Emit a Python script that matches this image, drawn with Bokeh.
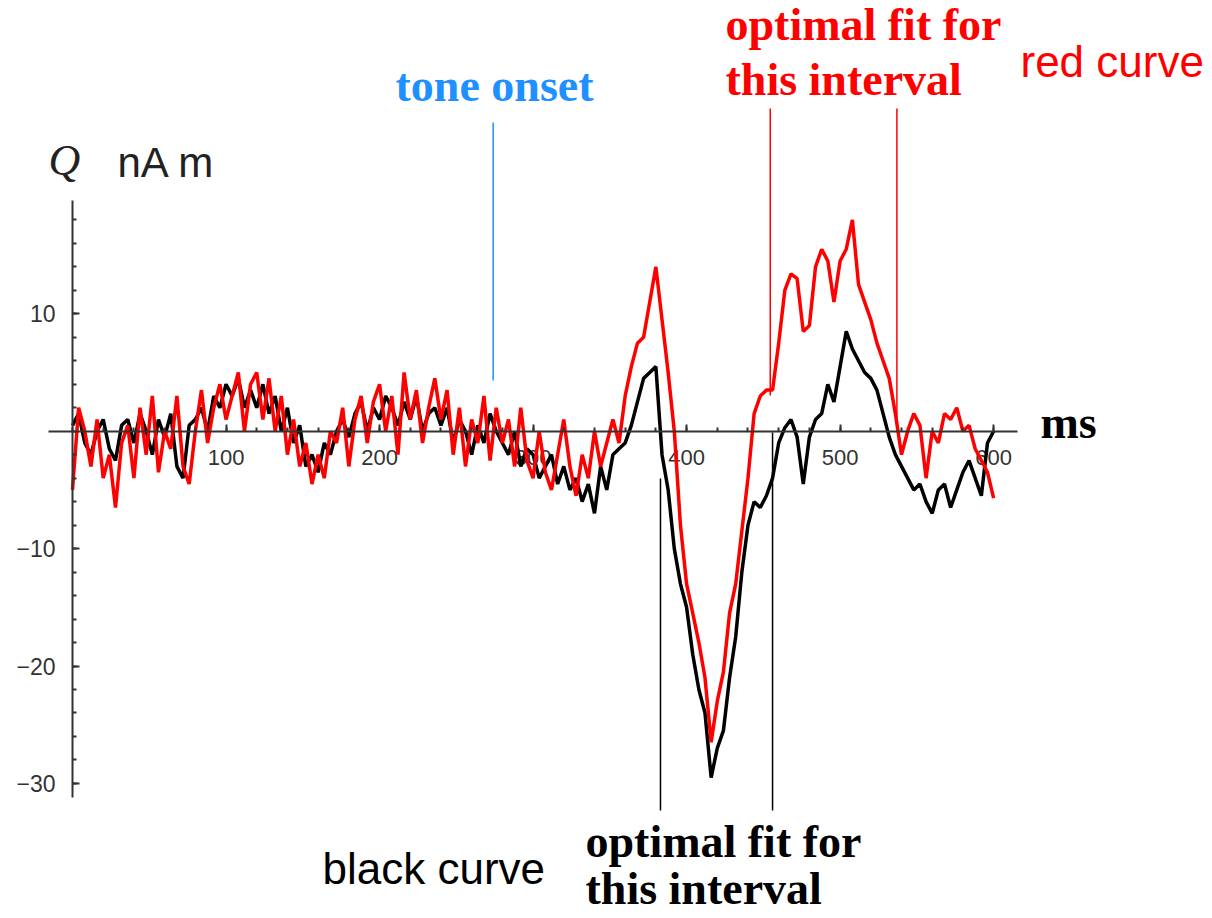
from bokeh.plotting import figure
from bokeh.models import FixedTicker, Label, Arrow, Range1d, ColumnDataSource, LinearAxis
from bokeh.core.properties import value
from bokeh.embed import file_html
from bokeh.resources import INLINE

# ---- data (ms, nA m) ----
time_ms = list(range(0, 601, 4))

black_curve = [
    0.5, 1.5, -1, -2, 0, 1, -1.5, -2.5, 0.5, 1,
    -1, 1.5, 0, -2, 1, -0.5, 1.5, -3, -4, 0.5,
    1, 2, 0, 3, 2, 4, 3, 4.5, 2, 3.5,
    2, 4, 1.5, 3, 0, 2, -1, 0.5, -3, -2,
    -3.5, -1, -2, 0, 1, -0.5, 1.5, 2.5, 0, 2,
    1, 3, 2, 0.5, 2.5, 1, 3, 0, 1.5, 2,
    0.5, 2, -1, 1, 0, -2, 0.5, -1, 1.5, 0,
    -1, -2, 0, -3, -1.5, -2, -4, -3, -2, -4.5,
    -3, -5, -4, -6, -4.5, -7, -3, -5, -2, -1.5,
    -1, 0.5, 2.5, 4.5, 5, 5.5, -2, -5, -10, -13,
    -15, -19, -22, -24, -29.5, -27, -25.5, -21, -17.5, -12,
    -8, -6, -6.5, -5.5, -4, -1, 0.3, 1, -0.5, -4.5,
    -0.5, 1, 1.5, 4, 2.5, 5.5, 8.5, 7, 6, 5,
    4.5, 3.5, 1.5, -0.5, -2, -3, -4, -5, -4.5, -6,
    -7, -5, -4.5, -6.5, -5, -3.5, -2.5, -4, -5.5, -1,
    0,
]

red_curve = [
    -5, 2, 0, -3, 1, -4, -2, -6.5, -1, 0.5,
    -4, 2, -2, 3, -3.5, 0, -1.5, 3, -3, -4.5,
    0, 3.5, -1, 2, 4, 1, 3, 5, 0, 4,
    5, 1, 4.5, 0, 3, -2, 1, -3, -1, -4.5,
    -2, -4, 0, -1, 2, -3, 1, 3, -1, 2.5,
    4, 0, 3, -2, 5, 1, 3.5, -1, 2, 4.5,
    1, 3.5, -2, 2, -3, 1, -1, 3, -2.5, 2,
    -1, 1, -3, 2, -2.5, -4, 0, -3.5, -5, -2,
    1, -3, -5.5, -2, -4, 0, -3, -1, 1, -1,
    3, 5.5, 7.5, 8, 11, 14, 9.5, 5, 0, -8,
    -13, -15.5, -18, -21, -26.5, -23, -20.5, -15.5, -13, -8.5,
    -4, 1.5, 3, 3.5, 3.5, 7.5, 12, 13.4, 13, 8.5,
    9, 14, 15.5, 14.5, 11, 14.5, 15.5, 18, 12.5, 11,
    9.5, 7.5, 6, 4.5, 1.5, -2, 0, 1.5, 0.5, -4,
    0, -1, 1.5, 1, 2, 0, 0.5, -1.5, -2.5, -3.5,
    -5.7,
]

x_major_ticks = [100, 200, 300, 400, 500, 600]
x_tick_labels = ["100", "200", "300", "400", "500", "600"]
x_minor_ticks = list(range(0, 616, 20))
y_major_ticks = [-30, -20, -10, 10]
y_tick_labels = ["\u221230", "\u221220", "\u221210", "10"]
y_minor_ticks = list(range(-30, 20, 2))

tone_onset_ms = 274
black_fit_interval = [383, 456]
red_fit_interval = [454.5, 537]

# ---- geometry: the frame fills the whole page ----
W, H = 1212, 918
PX_PER_MS = 1.5352
PX_PER_UNIT = 11.74
X0_PX, Y0_PX = 72, 430.7


def px_x(px):
    return (px - X0_PX) / PX_PER_MS


def px_y(py):
    return (Y0_PX - py) / PX_PER_UNIT


p = figure(
    width=W, height=H,
    x_range=Range1d(px_x(0), px_x(W)), y_range=Range1d(px_y(H), px_y(0)),
    output_backend="svg", toolbar_location=None, min_border=0,
)
p.outline_line_color = None
p.grid.visible = False
p.background_fill_color = "white"
p.border_fill_color = "white"


def style_axis(ax, minor, tick_len, line=True):
    ax.fixed_location = 0
    ax.ticker = FixedTicker(ticks=[], minor_ticks=minor)
    ax.axis_line_color = "#333333" if line else None
    ax.axis_line_width = 2
    ax.minor_tick_line_color = "#333333"
    ax.minor_tick_line_width = 2
    ax.minor_tick_in = tick_len
    ax.minor_tick_out = 0
    ax.major_tick_in = 0
    ax.major_tick_out = 0
    ax.major_label_standoff = 0


style_axis(p.xaxis[0], x_minor_ticks, 4)
style_axis(p.yaxis[0], y_minor_ticks, 4)
p.xaxis[0].bounds = (px_x(48), px_x(1017))
p.yaxis[0].bounds = (px_y(797), px_y(200))

x_major_axis = LinearAxis()
style_axis(x_major_axis, x_major_ticks, 7, line=False)
p.add_layout(x_major_axis, "below")
y_major_axis = LinearAxis()
style_axis(y_major_axis, y_major_ticks, 7, line=False)
p.add_layout(y_major_axis, "left")

# tick labels, placed through the data scales at the tick values (under the curves)
p.text(x=x_major_ticks, y=[px_y(449)] * len(x_major_ticks), text=x_tick_labels,
       text_align="center", text_baseline="top", text_font=value("Liberation Sans"),
       text_font_size="22px", text_color="#333333")
p.text(x=[px_x(55)] * len(y_major_ticks), y=y_major_ticks, text=y_tick_labels,
       text_align="right", text_baseline="middle", text_font=value("Liberation Sans"),
       text_font_size="23px", text_color="#333333")

src = ColumnDataSource(dict(t=time_ms, black=black_curve, red=red_curve))
p.line("t", "black", source=src, line_color="black", line_width=3.5)
p.line("t", "red", source=src, line_color="#ff0000", line_width=3.5)

# leader lines
p.add_layout(Arrow(end=None, x_start=tone_onset_ms, x_end=tone_onset_ms,
                   y_start=px_y(122), y_end=px_y(380),
                   line_color="#1e90ff", line_width=1.5))
for ms, bottom in zip(red_fit_interval, [395, 420]):
    p.add_layout(Arrow(end=None, x_start=ms, x_end=ms,
                       y_start=px_y(108), y_end=px_y(bottom),
                       line_color="#ff0000", line_width=1.5))
for ms, top in zip(black_fit_interval, [478, 432]):
    p.add_layout(Arrow(end=None, x_start=ms, x_end=ms,
                       y_start=px_y(top), y_end=px_y(810),
                       line_color="black", line_width=1.5))


def label(text, px, py, font, size, color, style="normal"):
    p.add_layout(Label(x=px_x(px), y=px_y(py), text=text,
                       text_font=font, text_font_size=size,
                       text_color=color, text_font_style=style,
                       text_baseline="alphabetic", text_align="left"))


label("Q", 48, 160, "Liberation Serif", "44px", "#222222", "italic")
label("nA m", 117, 162, "Liberation Sans", "42px", "#222222")
label("ms", 1040, 422, "Liberation Serif", "46px", "black", "bold")
label("tone onset", 395, 85, "Liberation Serif", "46px", "#1e90ff", "bold")
label("optimal fit for", 725, 24, "Liberation Serif", "46px", "#ff0000", "bold")
label("this interval", 725, 79, "Liberation Serif", "46px", "#ff0000", "bold")
label("red curve", 1020, 61, "Liberation Sans", "44px", "#ff0000")
label("black curve", 322, 868, "Liberation Sans", "44px", "black")
label("optimal fit for", 585, 841, "Liberation Serif", "46px", "black", "bold")
label("this interval", 585, 888, "Liberation Serif", "46px", "black", "bold")

open("out.html", "w").write(file_html(p, INLINE))
